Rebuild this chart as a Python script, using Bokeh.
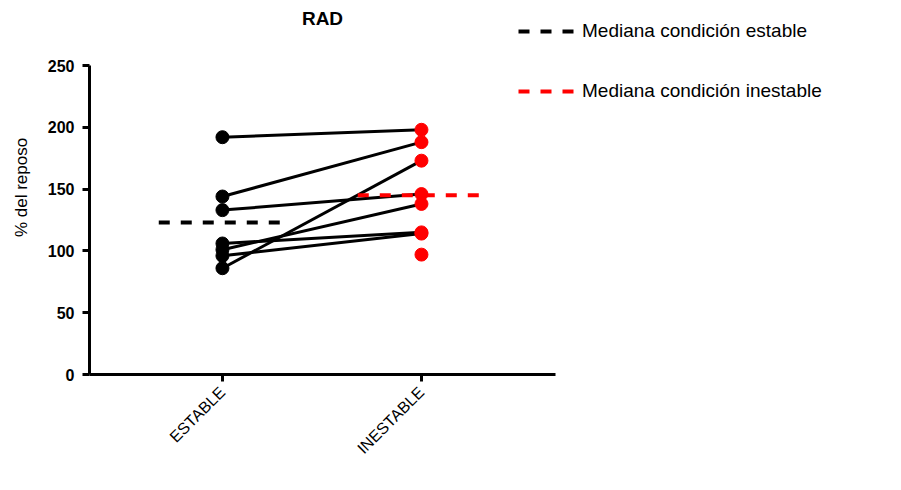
import math

from bokeh.plotting import figure
from bokeh.models import (ColumnDataSource, FixedTicker, Label, Legend,
                          LegendItem, Range1d)
from bokeh.embed import file_html
from bokeh.resources import INLINE

# RAD, % of resting value for each subject under both conditions
categorias = ["ESTABLE", "INESTABLE"]
estable = [192, 144, 133, 106, 101, 96, 86, float("nan")]
inestable = [198, 188, 146, 115, 138, 114, 173, 97]
mediana_estable = 123
mediana_inestable = 145
ticks_y = [0, 50, 100, 150, 200, 250]
titulo = "RAD"

FONT = "Liberation Sans"
HALF = 0.32  # half-width of the median bars, in category units

# The frame covers the whole area right of / above the axes so that the
# title and the legend can sit there; the axis lines are limited by bounds.
X_AXIS = (-0.668, 1.673)
Y_AXIS = (0, 250)
p = figure(width=901, height=490, output_backend="svg", toolbar_location=None,
           x_range=Range1d(-0.668, 3.412), y_range=Range1d(0, 302.6),
           min_border_left=89, min_border_right=0,
           min_border_top=0, min_border_bottom=116)
p.title = None
p.outline_line_color = None
p.xgrid.visible = False
p.ygrid.visible = False

n = len(estable)
pares = ColumnDataSource(dict(
    x0=[0] * n, y0=estable, x1=[1] * n, y1=inestable,
))
p.segment("x0", "y0", "x1", "y1", source=pares, line_color="black",
          line_width=3)
p.scatter(x=[0] * n, y=estable, size=13, color="black")
p.scatter(x=[1] * n, y=inestable, size=13, color="red")

med_e = p.segment(x0=[0 - HALF], y0=[mediana_estable], x1=[0 + HALF],
                  y1=[mediana_estable], line_color="black", line_width=4,
                  line_dash="11 11")
med_i = p.segment(x0=[1 - HALF], y0=[mediana_inestable], x1=[1 + HALF],
                  y1=[mediana_inestable], line_color="red", line_width=4,
                  line_dash="11 11")

# axes
for ax in (p.xaxis[0], p.yaxis[0]):
    ax.axis_line_width = 3
    ax.axis_line_color = "black"
    ax.major_tick_line_width = 3
    ax.major_tick_line_color = "black"
    ax.major_tick_out = 7
    ax.major_tick_in = 0
    ax.minor_tick_line_color = None

p.xaxis.bounds = X_AXIS
p.xaxis.ticker = FixedTicker(ticks=[0, 1])
p.xaxis.major_label_overrides = {i: c for i, c in enumerate(categorias)}
p.xaxis.major_label_orientation = math.pi / 4
p.xaxis.major_label_standoff = 8
p.xaxis.major_label_text_font = FONT
p.xaxis.major_label_text_font_size = "16px"
p.xaxis.major_label_text_color = "black"

p.yaxis.bounds = Y_AXIS
p.yaxis.ticker = FixedTicker(ticks=ticks_y)
p.yaxis.major_label_standoff = 8
p.yaxis.major_label_text_font = FONT
p.yaxis.major_label_text_font_size = "16px"
p.yaxis.major_label_text_font_style = "bold"
p.yaxis.major_label_text_color = "black"
p.yaxis.axis_label = "% del reposo"
p.yaxis.axis_label_standoff = 14
p.yaxis.axis_label_text_font = FONT
p.yaxis.axis_label_text_font_size = "17px"
p.yaxis.axis_label_text_font_style = "normal"
p.yaxis.axis_label_text_color = "black"

# title centred over the plotting area (screen units from the frame corner)
p.add_layout(Label(x=233, y=356, x_units="screen", y_units="screen",
                   text=titulo, text_align="center", text_baseline="middle",
                   text_font=FONT, text_font_size="19px",
                   text_font_style="bold", text_color="black"))

legend = Legend(items=[
    LegendItem(label="Mediana condición estable", renderers=[med_e]),
    LegendItem(label="Mediana condición inestable", renderers=[med_i]),
], location=(429, 272), padding=0, margin=0, border_line_color=None,
    background_fill_alpha=0, glyph_width=62, glyph_height=16,
    label_height=16, spacing=38, label_standoff=2,
    label_text_font=FONT, label_text_font_size="19px",
    label_text_color="black")
p.add_layout(legend, "center")

open("out.html", "w").write(file_html(p, INLINE))
